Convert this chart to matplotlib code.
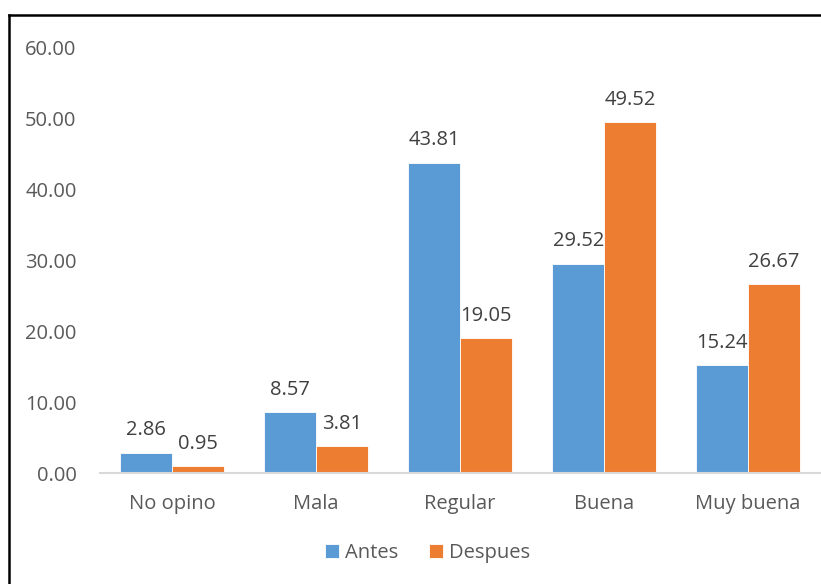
import numpy as np
import matplotlib.pyplot as plt
from matplotlib.lines import Line2D

plt.rcParams['font.family'] = ['Open Sans', 'DejaVu Sans']

# datos
categorias = ['No opino', 'Mala', 'Regular', 'Buena', 'Muy buena']
antes = [2.86, 8.57, 43.81, 29.52, 15.24]
despues = [0.95, 3.81, 19.05, 49.52, 26.67]

c_antes = '#5B9BD5'
c_despues = '#ED7D31'
gris = '#595959'
fs = 14.5

fig = plt.figure(figsize=(8.21, 5.84), dpi=100)
ax = fig.add_axes([0.122, 0.19, 0.877, 0.728])

x = np.arange(len(categorias))
w = 0.36
b1 = ax.bar(x - w / 2, antes, w, color=c_antes, edgecolor='white', linewidth=0.6, label='Antes')
b2 = ax.bar(x + w / 2, despues, w, color=c_despues, edgecolor='white', linewidth=0.6, label='Despues')

for bars in (b1, b2):
    ax.bar_label(bars, labels=['%.2f' % b.get_height() for b in bars], padding=9,
                 fontsize=fs, color='#404040')

ax.set_xlim(-0.5, len(categorias) - 0.5)
ax.set_ylim(0, 60)
ax.set_yticks(np.arange(0, 61, 10))
ax.set_yticklabels(['%.2f' % v for v in np.arange(0, 61, 10)])
ax.set_xticks(x)
ax.set_xticklabels(categorias)
ax.tick_params(axis='both', length=0, labelsize=fs, colors=gris)
ax.tick_params(axis='x', pad=15)
ax.tick_params(axis='y', pad=17)

for s in ['top', 'right', 'left']:
    ax.spines[s].set_visible(False)
ax.spines['bottom'].set_color('#D9D9D9')
ax.spines['bottom'].set_linewidth(1.5)

ax.legend(loc='center', bbox_to_anchor=(0.521, 0.053), bbox_transform=fig.transFigure,
          ncol=2, frameon=False, fontsize=fs, handlelength=0.7, handleheight=0.7,
          handletextpad=0.3, columnspacing=1.5, labelcolor=gris)

# borde del cuadro (solo izquierda y arriba visibles)
top = 1 - 15 / 584
left = 9 / 821
fig.add_artist(Line2D([left, left], [0, top], transform=fig.transFigure, color='black', linewidth=1.8))
fig.add_artist(Line2D([left, 1.01], [top, top], transform=fig.transFigure, color='black', linewidth=1.8))

fig.savefig('out.png', dpi=100)
